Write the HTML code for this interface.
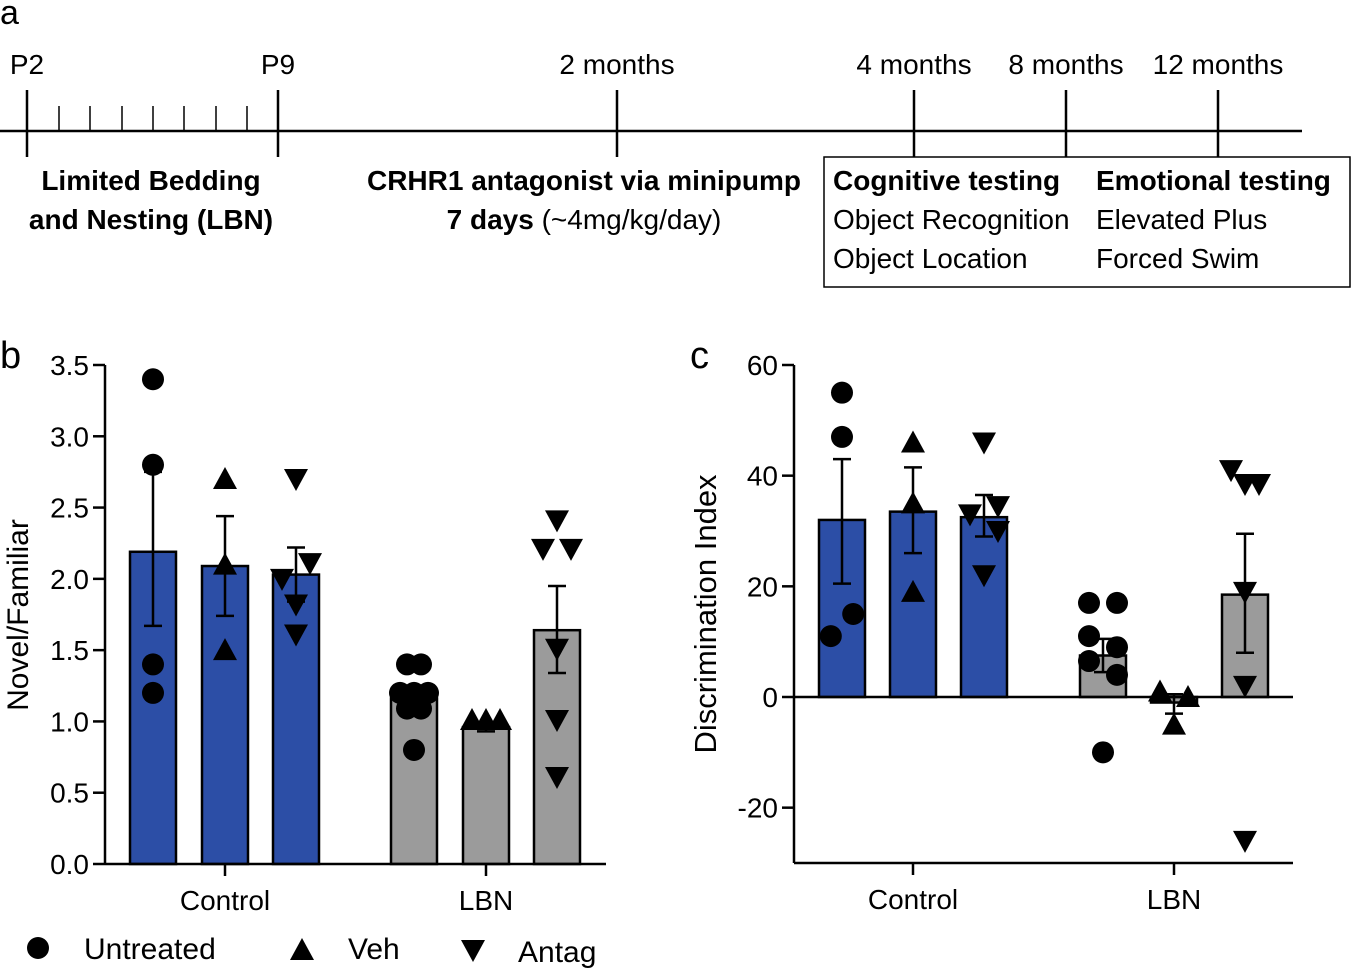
<!DOCTYPE html>
<html><head><meta charset="utf-8"><style>
body{margin:0;background:#fff;}
svg{display:block;font-family:"Liberation Sans",Arial,sans-serif;}
</style></head><body>
<svg id="fig" width="1351" height="969" viewBox="0 0 1351 969">
<g font-size="28" fill="#000">
<text x="0" y="24" font-size="34">a</text>
<line x1="0" y1="131" x2="1302" y2="131" stroke="#000" stroke-width="2.5"/>
<g stroke="#000" stroke-width="2.5">
<line x1="27" y1="90" x2="27" y2="157"/><line x1="278" y1="90" x2="278" y2="157"/>
<line x1="617" y1="90" x2="617" y2="157"/><line x1="914" y1="90" x2="914" y2="157"/>
<line x1="1066" y1="90" x2="1066" y2="157"/><line x1="1218" y1="90" x2="1218" y2="157"/>
</g>
<g stroke="#000" stroke-width="1.5">
<line x1="59" y1="106" x2="59" y2="131"/><line x1="90" y1="106" x2="90" y2="131"/><line x1="122" y1="106" x2="122" y2="131"/><line x1="153" y1="106" x2="153" y2="131"/><line x1="184" y1="106" x2="184" y2="131"/><line x1="216" y1="106" x2="216" y2="131"/><line x1="247" y1="106" x2="247" y2="131"/>
</g>
<text x="27" y="74" text-anchor="middle">P2</text>
<text x="278" y="74" text-anchor="middle">P9</text>
<text x="617" y="74" text-anchor="middle">2 months</text>
<text x="914" y="74" text-anchor="middle">4 months</text>
<text x="1066" y="74" text-anchor="middle">8 months</text>
<text x="1218" y="74" text-anchor="middle">12 months</text>
<text x="151" y="190" text-anchor="middle" font-weight="bold">Limited Bedding</text>
<text x="151" y="229" text-anchor="middle" font-weight="bold">and Nesting (LBN)</text>
<text x="584" y="190" text-anchor="middle" font-weight="bold">CRHR1 antagonist via minipump</text>
<text x="584" y="229" text-anchor="middle"><tspan font-weight="bold">7 days</tspan> (~4mg/kg/day)</text>
<rect x="824" y="157" width="526" height="130" fill="none" stroke="#000" stroke-width="1.5"/>
<text x="833" y="190" font-weight="bold">Cognitive testing</text>
<text x="833" y="229">Object Recognition</text>
<text x="833" y="268">Object Location</text>
<text x="1096" y="190" font-weight="bold">Emotional testing</text>
<text x="1096" y="229">Elevated Plus</text>
<text x="1096" y="268">Forced Swim</text>
</g>
<text x="0" y="368" font-size="38">b</text>
<text x="690" y="368" font-size="38">c</text>
<g id="pb"></g>
<g id="pc"></g>
<g font-size="30">
<circle cx="38" cy="948" r="11" fill="#000"/>
<text x="84" y="959">Untreated</text>
<path d="M290,960 L314,960 L302,938 Z" fill="#000"/>
<text x="348" y="959">Veh</text>
<path d="M461,940 L485,940 L473,962 Z" fill="#000"/>
<text x="518" y="962">Antag</text>
</g>
</svg>
<script>
// Panel b data
const bGroups = ["Control","LBN"];
const bMeans = [2.19,2.09,2.03,1.16,0.96,1.64];
const bErrLo = [1.67,1.74,1.84,1.09,0.93,1.34];
const bErrHi = [2.75,2.44,2.22,1.22,0.99,1.95];
const bPoints = [[3.40,2.80,1.40,1.20],[2.70,2.10,1.50],[2.70,2.11,2.00,1.82,1.61],[1.40,1.40,1.20,1.20,1.20,1.09,1.09,0.80],[1.01,1.01,1.01],[2.41,2.21,2.21,1.51,1.01,0.61]];
const bTicks = [0,0.5,1,1.5,2,2.5,3,3.5];
// scatter jitter (in marker-width units)
const bJitter = [[0,0,0,0],[0,0,0],[0,1,-1,0,0],[-0.5,0.5,-1,0,1,-0.5,0.5,0],[-1,0,1],[0,-1,1,0,0,0]];
// Panel c data
const cGroups = ["Control","LBN"];
const cMeans = [32,33.5,32.5,7.5,-1,18.5];
const cErrLo = [20.5,26,29,4.5,-3,8];
const cErrHi = [43,41.5,36.5,10.5,0.5,29.5];
const cPoints = [[55,47,15,11],[46,35,19],[46,33,34.5,30,22],[17,17,11,9,6.5,4,-10],[1,0,-5],[41,38.5,38.5,19,2,-26]];
const cTicks = [-20,0,20,40,60];
const cJitter = [[0,0,0.8,-0.8],[0,0,0],[0,-1,1,1,0],[-1,1,-1,1,-1,1,0],[-1,1,0],[-1,0,1,0,0,0]];

const NS="http://www.w3.org/2000/svg";
function mk(p,t,a){const e=document.createElementNS(NS,t);for(const k in a)e.setAttribute(k,a[k]);p.appendChild(e);return e;}
const shapes=["circle","up","down","circle","up","down"];
function marker(g,shape,x,y){
  let e;
  if(shape==="circle") e=mk(g,"circle",{cx:x,cy:y,r:11,fill:"#000"});
  else if(shape==="up") e=mk(g,"path",{d:`M${x-12},${y+10}L${x+12},${y+10}L${x},${y-12}Z`,fill:"#000"});
  else e=mk(g,"path",{d:`M${x-12},${y-10}L${x+12},${y-10}L${x},${y+12}Z`,fill:"#000"});
  
  
}
function draw(gid,o){
  const g=document.getElementById(gid);
  const y=v=>o.y0-(v-o.vmin)*o.k;
  const colors=["#2c4ea6","#2c4ea6","#2c4ea6","#9b9b9b","#9b9b9b","#9b9b9b"];
  o.means.forEach((m,i)=>{
    const cx=o.cx[i], base=y(o.base), top=y(m);
    const r=mk(g,"rect",{x:cx-23,y:Math.min(base,top),width:46,height:Math.abs(base-top),fill:colors[i],stroke:"#000","stroke-width":2.5});
    
    
    const eb=mk(g,"path",{d:`M${cx},${y(o.lo[i])}V${y(o.hi[i])}M${cx-9},${y(o.lo[i])}H${cx+9}M${cx-9},${y(o.hi[i])}H${cx+9}`,stroke:"#000","stroke-width":2.5,fill:"none"});
    
    
    o.pts[i].forEach((v,j)=>{
      const dx=((o.jit[i]&&o.jit[i][j])||0)*14;
      marker(g,shapes[i],cx+dx,y(v));
    });
  });
  mk(g,"line",{x1:o.xl,y1:y(o.vmax),x2:o.xl,y2:y(o.vmin),stroke:"#000","stroke-width":2.5});
  const xa=mk(g,"line",{x1:o.xl,y1:y(o.xv),x2:o.xr,y2:y(o.xv),stroke:"#000","stroke-width":2.5});
  
  
  o.ticks.forEach(t=>{
    mk(g,"line",{x1:o.xl-12,y1:y(t),x2:o.xl,y2:y(t),stroke:"#000","stroke-width":2.5});
    const tx=mk(g,"text",{x:o.xl-16,y:y(t)+10,"text-anchor":"end","font-size":28});
    tx.textContent=o.fmt(t);
    
    
  });
  o.groups.forEach((gr,i)=>{
    const cx=o.cx[i*3+1];
    mk(g,"line",{x1:cx,y1:o.xb,x2:cx,y2:o.xb+12,stroke:"#000","stroke-width":2.5});
    const tx=mk(g,"text",{x:cx,y:o.xb+46,"text-anchor":"middle","font-size":28});
    tx.textContent=gr;
    
    
  });
  const yt=mk(g,"text",{x:0,y:0,"text-anchor":"middle","font-size":o.yfs,transform:`translate(${o.ytx},${o.ytc}) rotate(-90)`});
  yt.textContent=o.ytitle;
  
  
}
draw("pb",{y0:864,vmin:0,vmax:3.5,k:499/3.5,base:0,xv:0,xb:864,xl:105,xr:606,cx:[153,225,296,414,486,557],means:bMeans,lo:bErrLo,hi:bErrHi,pts:bPoints,jit:bJitter,ticks:bTicks,groups:bGroups,fmt:t=>t.toFixed(1),ytx:28,ytc:615,yfs:30,ytitle:"Novel/Familiar"});
draw("pc",{y0:697,vmin:0,vmax:60,k:332/60,base:0,xv:0,xb:863,xl:794,xr:1293,cx:[842,913,984,1103,1174,1245],means:cMeans,lo:cErrLo,hi:cErrHi,pts:cPoints,jit:cJitter,ticks:cTicks,groups:cGroups,fmt:t=>String(t),ytx:716,ytc:614,yfs:31,ytitle:"Discrimination Index"});
(function(){const g=document.getElementById("pc");const y=v=>697-v*332/60;
mk(g,"line",{x1:794,y1:y(0),x2:794,y2:y(-30),stroke:"#000","stroke-width":2.5});
const b=mk(g,"line",{x1:794,y1:y(-30),x2:1293,y2:y(-30),stroke:"#000","stroke-width":2.5});


})();
</script>
</body></html>
